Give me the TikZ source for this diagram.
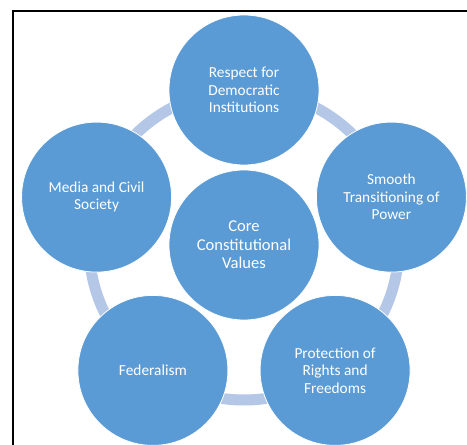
\documentclass[tikz,border=0pt]{standalone}
\usepackage{fontspec}
\setmainfont{Carlito}
\definecolor{bubble}{RGB}{91,155,213}
\definecolor{ringblue}{RGB}{180,199,231}
\begin{document}
\begin{tikzpicture}[x=0.75pt,y=0.75pt,
  bubble/.style={circle,fill=bubble,draw=white,line width=0.6pt,
    minimum size=112.5pt,inner sep=0pt,text=white,align=center,
    font=\fontsize{11.5}{13.2}\selectfont},
  hub/.style={bubble,font=\fontsize{12.4}{14}\selectfont},
  ring/.style={draw=ringblue,line width=8.25pt},
  frame/.style={draw=black,line width=1.5pt}]
  % canvas: 467 x 445 px, origin at the hub centre
  \useasboundingbox (-244,-200) rectangle (223,245);
  \fill[white] (-244,-200) rectangle (223,245);
  % page frame (left and top edges)
  \draw[frame] (-231,-201) -- (-231,234) -- (224,234);
  % hub node and the ring linking the outer bubbles
  \coordinate (hubc) at (0,0);
  \draw[ring] (hubc) circle[radius=116.25pt];
  \node[hub] (core) at (hubc) {Core\\Constitutional\\Values};
  \node[bubble] (respect) at (90:155) {Respect for\\Democratic\\Institutions};
  \node[bubble] (power) at (18:155) {Smooth\\Transitioning of\\Power};
  \node[bubble] (rights) at (-54:155) {Protection of\\Rights and\\Freedoms};
  \node[bubble] (fed) at (-126:155) {Federalism};
  \node[bubble] (media) at (162:155) {Media and Civil\\Society};
\end{tikzpicture}
\end{document}
